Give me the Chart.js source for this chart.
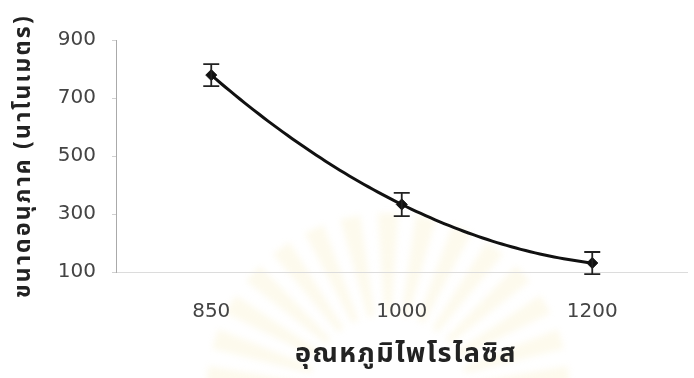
<!DOCTYPE html>
<html>
<head>
<meta charset="utf-8">
<script src="https://cdn.jsdelivr.net/npm/chart.js@4.4.0/dist/chart.umd.min.js"></script>
<style>
  html, body { margin: 0; padding: 0; background: #ffffff; }
  #wrap { width: 694px; height: 378px; position: relative; }
</style>
</head>
<body>
<div id="wrap"><canvas id="c" width="694" height="378"></canvas></div>
<script>
// Pyrolysis temperature (°C) and mean particle size (nm) with error
const temperatures = ['850', '1000', '1200'];
const particleSize = [779, 333, 131];
const sizeError = [38, 40, 38];
const yTicks = [100, 300, 500, 700, 900];
const xTitle = 'อุณหภูมิไพโรไลซิส';
const yTitle = 'ขนาดอนุภาค (นาโนเมตร)';

const TICK_FONT = "'DejaVu Sans', 'Liberation Sans', sans-serif";
const THAI_FONT = "'Noto Sans Thai', 'Loma', 'Garuda', 'Tlwg Typo', 'Noto Sans', sans-serif";

// Pale sunburst emblem in the background, behind the plot
const emblem = {
  id: 'emblem',
  beforeDraw(chart) {
    const ctx = chart.ctx;
    const cx = 388, cy = 395;
    ctx.save();
    ctx.filter = 'blur(3px)';
    ctx.fillStyle = 'rgba(242, 222, 140, 0.16)';
    const deg = Math.PI / 180;
    for (let a = 186; a <= 354; a += 12) {
      const r0 = 80, r1 = 182;
      const t = a * deg;
      ctx.beginPath();
      ctx.moveTo(cx + r0 * Math.cos(t - 2.5 * deg), cy + r0 * Math.sin(t - 2.5 * deg));
      ctx.lineTo(cx + r1 * Math.cos(t - 3.2 * deg), cy + r1 * Math.sin(t - 3.2 * deg));
      ctx.lineTo(cx + r1 * Math.cos(t + 3.2 * deg), cy + r1 * Math.sin(t + 3.2 * deg));
      ctx.lineTo(cx + r0 * Math.cos(t + 2.5 * deg), cy + r0 * Math.sin(t + 2.5 * deg));
      ctx.closePath();
      ctx.fill();
    }
    ctx.restore();
  }
};

// Smooth curve through the measured points (quadratic through the three values)
const smoothCurve = {
  id: 'smoothCurve',
  beforeDatasetsDraw(chart) {
    const { ctx, scales: { x, y } } = chart;
    const n = particleSize.length;
    const lagrange = (t) => {
      let s = 0;
      for (let i = 0; i < n; i++) {
        let w = 1;
        for (let j = 0; j < n; j++) if (j !== i) w *= (t - j) / (i - j);
        s += w * particleSize[i];
      }
      return s;
    };
    ctx.save();
    ctx.strokeStyle = '#111';
    ctx.lineWidth = 3;
    ctx.lineJoin = 'round';
    ctx.lineCap = 'round';
    ctx.beginPath();
    const steps = 80;
    for (let k = 0; k <= steps; k++) {
      const t = (n - 1) * k / steps;
      const px = x.getPixelForValue(t), py = y.getPixelForValue(lagrange(t));
      if (k === 0) ctx.moveTo(px, py); else ctx.lineTo(px, py);
    }
    ctx.stroke();
    ctx.restore();
  }
};

// Vertical error bars with caps
const errorBars = {
  id: 'errorBars',
  afterDatasetsDraw(chart) {
    const { ctx, scales: { x, y } } = chart;
    ctx.save();
    ctx.strokeStyle = '#222';
    ctx.lineWidth = 1.8;
    particleSize.forEach((v, i) => {
      const px = x.getPixelForValue(i);
      const top = y.getPixelForValue(v + sizeError[i]);
      const bot = y.getPixelForValue(v - sizeError[i]);
      ctx.beginPath();
      ctx.moveTo(px, top); ctx.lineTo(px, bot);
      ctx.moveTo(px - 8, top); ctx.lineTo(px + 8, top);
      ctx.moveTo(px - 8, bot); ctx.lineTo(px + 8, bot);
      ctx.stroke();
    });
    ctx.restore();
  }
};

// Axis titles
const axisTitles = {
  id: 'axisTitles',
  afterDraw(chart) {
    const { ctx } = chart;
    ctx.save();
    ctx.fillStyle = '#222';
    ctx.textAlign = 'center';
    ctx.textBaseline = 'middle';
    ctx.font = "bold 27px " + THAI_FONT;
    ctx.letterSpacing = '1.5px';
    ctx.fillText(xTitle, 406, 357);
    ctx.translate(25, 156);
    ctx.rotate(-Math.PI / 2);
    ctx.font = "bold 23px " + THAI_FONT;
    ctx.letterSpacing = '2.2px';
    ctx.fillText(yTitle, 0, 0);
    ctx.restore();
  }
};

new Chart(document.getElementById('c'), {
  type: 'line',
  data: {
    labels: temperatures,
    datasets: [{
      data: particleSize,
      showLine: false,
      pointStyle: 'rectRot',
      pointRadius: 5.5,
      pointBackgroundColor: '#111',
      pointBorderColor: '#111'
    }]
  },
  options: {
    responsive: false,
    animation: false,
    devicePixelRatio: 1,
    layout: { padding: { top: 40, right: -8, left: 0, bottom: 0 } },
    plugins: { legend: { display: false }, tooltip: { enabled: false } },
    scales: {
      x: {
        type: 'category',
        offset: true,
        grid: { display: false, drawTicks: false },
        border: { display: true, color: '#dcdcdc', width: 1, dash: [16, 10] },
        ticks: { color: '#444', font: { family: TICK_FONT, size: 20 }, padding: 28 },
        afterFit(scale) { scale.height = 106; }
      },
      y: {
        min: 100,
        max: 900,
        afterBuildTicks(scale) { scale.ticks = yTicks.map(v => ({ value: v })); },
        grid: { drawOnChartArea: false, drawTicks: true, tickLength: 4, color: '#d0d0d0' },
        border: { display: true, color: '#aaaaaa', width: 1 },
        ticks: { color: '#444', font: { family: TICK_FONT, size: 20 }, padding: 16 },
        afterFit(scale) { scale.width = 116; }
      }
    }
  },
  plugins: [emblem, smoothCurve, errorBars, axisTitles]
});
</script>
</body>
</html>
